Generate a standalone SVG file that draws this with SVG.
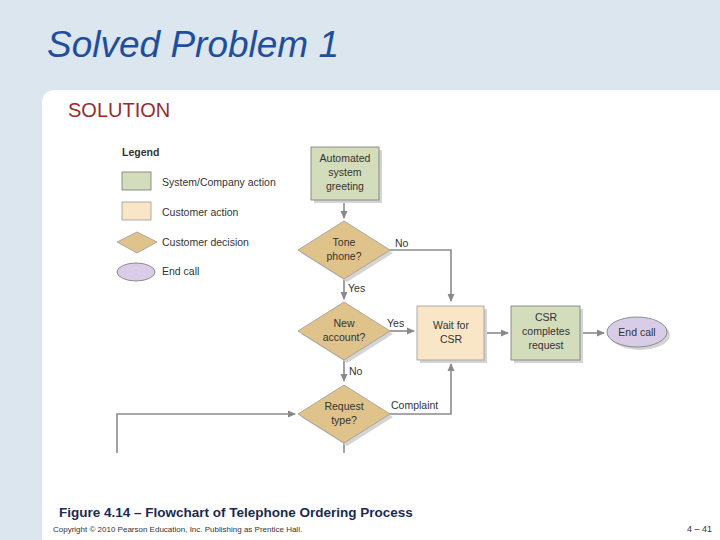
<svg xmlns="http://www.w3.org/2000/svg" width="720" height="540" viewBox="0 0 720 540">
<defs>
<marker id="ar" markerWidth="8" markerHeight="8" refX="7" refY="4" orient="auto" markerUnits="userSpaceOnUse"><path d="M0,0.5 L8,4 L0,7.5 Z" fill="#8a8a8a"/></marker>
<style>
text{font-family:"Liberation Sans",Arial,sans-serif}
.n{font-size:10.5px;fill:#333;text-anchor:middle}
.l{font-size:10.5px;fill:#333}
.sys{fill:#d3dcbb;stroke:#777;stroke-width:0.8}
.cus{fill:#f8e6c6;stroke:#999;stroke-width:0.8}
.dec{fill:#e0c38a;stroke:#999;stroke-width:0.8}
.end{fill:#d8cce6;stroke:#777;stroke-width:0.8}
.sh{fill:#d4d4d4}
.c{fill:none;stroke:#8a8a8a;stroke-width:1.6}
</style>
</defs>
<rect width="720" height="540" fill="#dce6ee"/>
<path d="M42,540 V104 Q42,90 56,90 H720 V540 Z" fill="#fff"/>
<text x="47" y="57" font-size="37" font-style="italic" fill="#1f4e9c">Solved Problem 1</text>
<text x="68" y="117" font-size="20" fill="#9c2a2a">SOLUTION</text>
<g id="legend">
<text x="122" y="156" class="l" font-weight="bold">Legend</text>
<rect x="122" y="172" width="29" height="18" class="sys"/><text x="162" y="186" class="l">System/Company action</text>
<rect x="122" y="202" width="29" height="18" class="cus"/><text x="162" y="216" class="l">Customer action</text>
<path d="M117,242 L137,232 L157,242 L137,253 Z" class="dec"/><text x="162" y="246" class="l">Customer decision</text>
<ellipse cx="136" cy="272" rx="19" ry="9" class="end"/><text x="162" y="275" class="l">End call</text>
</g>
<g id="connectors">
<path d="M344,200 V218" class="c" marker-end="url(#ar)"/>
<path d="M390,250 H451 V301" class="c" marker-end="url(#ar)"/>
<path d="M344,279 V299" class="c" marker-end="url(#ar)"/>
<path d="M390,331 H414" class="c" marker-end="url(#ar)"/>
<path d="M484,333 H508" class="c" marker-end="url(#ar)"/>
<path d="M580,333 H604" class="c" marker-end="url(#ar)"/>
<path d="M344,360 V381" class="c" marker-end="url(#ar)"/>
<path d="M390,414 H451 V364" class="c" marker-end="url(#ar)"/>
<path d="M117,453 V414 H295" class="c" marker-end="url(#ar)"/>
<path d="M344,443 V453" class="c"/>
<text x="395" y="247" class="l">No</text>
<text x="348" y="292" class="l">Yes</text>
<text x="387" y="327" class="l">Yes</text>
<text x="349" y="375" class="l">No</text>
<text x="391" y="409" class="l">Complaint</text>
</g>
<g id="greeting"><rect x="314" y="150" width="68" height="53" class="sh"/><rect x="311" y="147" width="68" height="53" class="sys"/>
<text x="345" y="162" class="n">Automated</text><text x="345" y="176" class="n">system</text><text x="345" y="190" class="n">greeting</text></g>
<g id="tone"><path d="M301,253 L347,224 L393,253 L347,282 Z" class="sh"/><path d="M298,250 L344,221 L390,250 L344,279 Z" class="dec"/>
<text x="344" y="246" class="n">Tone</text><text x="344" y="260" class="n">phone?</text></g>
<g id="newacct"><path d="M301,334 L347,305 L393,334 L347,363 Z" class="sh"/><path d="M298,331 L344,302 L390,331 L344,360 Z" class="dec"/>
<text x="344" y="327" class="n">New</text><text x="344" y="341" class="n">account?</text></g>
<g id="reqtype"><path d="M301,417 L347,388 L393,417 L347,446 Z" class="sh"/><path d="M298,414 L344,385 L390,414 L344,443 Z" class="dec"/>
<text x="344" y="410" class="n">Request</text><text x="344" y="424" class="n">type?</text></g>
<g id="wait"><rect x="420" y="309" width="67" height="54" class="sh"/><rect x="417" y="306" width="67" height="54" class="cus"/>
<text x="451" y="329" class="n">Wait for</text><text x="451" y="343" class="n">CSR</text></g>
<g id="csr"><rect x="514" y="309" width="69" height="54" class="sh"/><rect x="511" y="306" width="69" height="54" class="sys"/>
<text x="546" y="321" class="n">CSR</text><text x="546" y="335" class="n">completes</text><text x="546" y="349" class="n">request</text></g>
<g id="endcall"><ellipse cx="640" cy="335" rx="30" ry="15" class="sh"/><ellipse cx="637" cy="332" rx="30" ry="15" class="end"/>
<text x="637" y="336" class="n">End call</text></g>
<text x="59" y="517" font-size="13.5" font-weight="bold" fill="#1a2a50">Figure 4.14 – Flowchart of Telephone Ordering Process</text>
<text x="53" y="532" font-size="8" fill="#333">Copyright © 2010 Pearson Education, Inc. Publishing as Prentice Hall.</text>
<text x="712" y="532" font-size="9" fill="#333" text-anchor="end">4 – 41</text>
</svg>
